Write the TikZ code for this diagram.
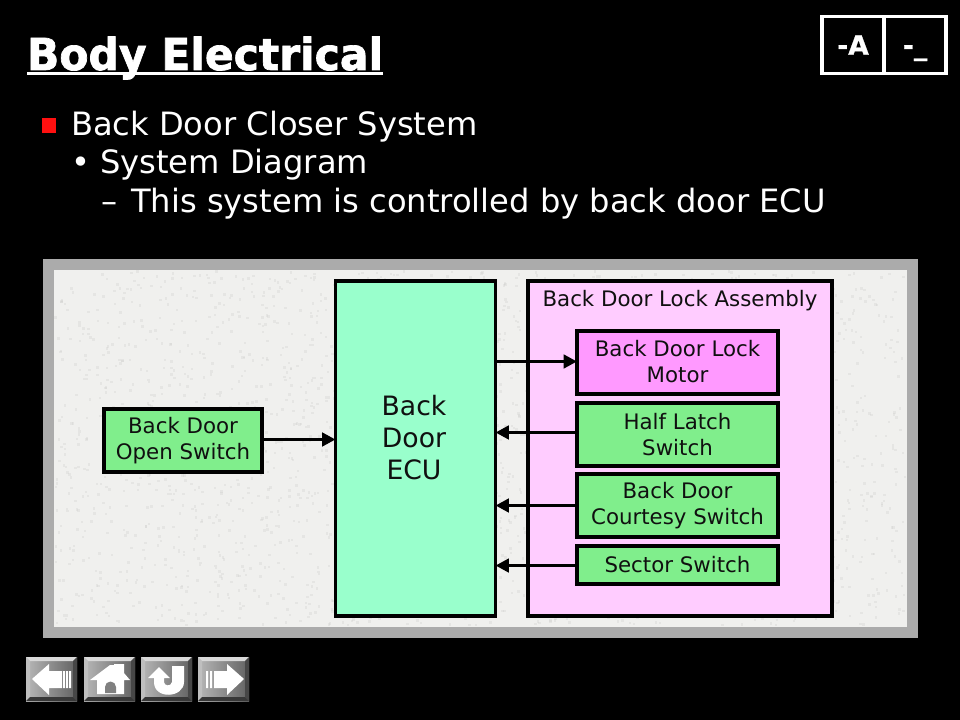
\documentclass[tikz,border=0pt]{standalone}
\usepackage{fontspec}
\setmainfont{DejaVu Sans}
\newfontfamily\titlefont[FakeBold=1.6,FakeStretch=0.965]{DejaVu Sans Bold}
\newfontfamily\tabfont[FakeBold=0.8]{DejaVu Sans Bold}
\usetikzlibrary{arrows.meta}
\definecolor{ecuc}{HTML}{99FFCC}
\definecolor{asmc}{HTML}{FFCCFF}
\definecolor{motc}{HTML}{FF99FF}
\definecolor{grnc}{HTML}{80EE8C}
\definecolor{framec}{HTML}{ABABAB}
\definecolor{texc}{HTML}{F0F0EE}
\definecolor{speck}{HTML}{C8C8C4}
\definecolor{redc}{HTML}{FF1010}
\definecolor{txtc}{HTML}{101010}
\tikzset{
  every node/.style={inner sep=0pt,outer sep=0pt},
  px/.style={x=0.75pt,y=-0.75pt},
  bx/.style args={#1/#2/#3}{draw=black,line width=2.4pt,fill=#1,minimum width=#2*0.75pt,minimum height=#3*0.75pt,align=center,font=\fontsize{16pt}{19.5pt}\selectfont,text=txtc},
  wire/.style={draw=black,line width=2.7pt,-{Triangle[length=10pt,width=10pt]}},
  ico/.style={fill=white,draw=none},
  tabbox/.style={draw=white,line width=2.6pt,minimum width=62*0.75pt,minimum height=57*0.75pt,anchor=north west,text=white,text height=14.6pt,text depth=0pt,font=\tabfont\fontsize{20pt}{24pt}\selectfont},
  bodyline/.style={anchor=base west,text=white,font=\fontsize{24.1pt}{28pt}\selectfont},
}
\newcommand{\btnbox}[1]{%
  \begin{scope}[shift={(#1,657)}]
    \shade[left color=black!28,right color=black!62] (0,0) rectangle (51,44);
    \fill[black!15] (0,0) -- (51,0) -- (47,4) -- (4,4) -- cycle;
    \fill[black!25] (0,0) -- (4,4) -- (4,40) -- (0,44) -- cycle;
    \fill[black!72] (51,0) -- (47,4) -- (47,40) -- (51,44) -- cycle;
    \fill[black!78] (0,44) -- (4,40) -- (47,40) -- (51,44) -- cycle;
  \end{scope}}
\begin{document}
\begin{tikzpicture}[px]
\useasboundingbox (0,0) rectangle (960,720);
\fill[black] (0,0) rectangle (960,720);
% title
\node[anchor=base west,text=white,font=\titlefont\fontsize{33pt}{38pt}\selectfont] (title) at (27,70) {Body Electrical};
\draw[white,line width=1.6pt] (27,73.5) -- (383,73.5);
% tab
\node[tabbox] (tabA) at (822,16.5) {-A};
\node[tabbox] (tabB) at (884,16.5) {-\char"5F};
% text
\fill[redc] (42,118) rectangle (56,133);
\node[bodyline] (l1) at (71,136) {Back Door Closer System};
\node[bodyline] (l2) at (71,174) {• System Diagram};
\node[bodyline] (l3) at (101,213) {–\hspace{3pt} This system is controlled by back door ECU};
% panel
\fill[framec] (43,259) rectangle (918,638);
\fill[texc] (54,270) rectangle (907,627);
\pgfmathsetseed{7}
\foreach \i in {1,...,2600}{
  \pgfmathsetmacro{\dx}{54+rnd*850}
  \pgfmathsetmacro{\dy}{270+rnd*354}
  \fill[speck,opacity=0.25] (\dx,\dy) rectangle ++(2.5,2.5);
}
% boxes
\node[bx=asmc/304/335,anchor=north west] (asm) at (528,281) {};
\node[anchor=base,font=\fontsize{16pt}{19.5pt}\selectfont,text=txtc] (asml) at (680,306) {Back Door Lock Assembly};
\node[bx=ecuc/160/335,anchor=north west] (ecu) at (335.5,281) {};
\node[align=center,font=\fontsize{20pt}{24pt}\selectfont,text=txtc] (ecul) at (414,438) {Back\\Door\\ECU};
\node[bx=motc/201/63,anchor=north west,text depth=1pt] (mot) at (577,331) {Back Door Lock\\Motor};
\node[bx=grnc/201/63,anchor=north west] (half) at (577,403) {Half Latch\\Switch};
\node[bx=grnc/201/63,anchor=north west] (court) at (577,474) {Back Door\\Courtesy Switch};
\node[bx=grnc/201/38,anchor=north west] (sect) at (577,546) {Sector Switch};
\node[bx=grnc/158/63,anchor=north west] (open) at (104,409) {Back Door\\Open Switch};
% connectors
\draw[wire] ([yshift=0.75pt]open.east) -- ([yshift=0.75pt]open.east -| ecu.west);
\draw[wire] ([yshift=0.75pt]mot.west -| ecu.east) -- ([yshift=0.75pt]mot.west);
\draw[wire] ([yshift=1.5pt]half.west) -- ([yshift=1.5pt]half.west -| ecu.east);
\draw[wire] (court.west) -- (court.west -| ecu.east);
\draw[wire] ([yshift=-0.4pt]sect.west) -- ([yshift=-0.4pt]sect.west -| ecu.east);
% nav buttons
\btnbox{26}\btnbox{84}\btnbox{141}\btnbox{198}
\fill[ico] (32,679) -- (49,664) -- (49,671) -- (62,671) -- (62,688) -- (49,688) -- (49,695) -- cycle;
\fill[ico] (63,671) rectangle (65,688) (66,671) rectangle (68,688) (69,671) rectangle (71,688);
\fill[ico] (90,680) -- (110,665) -- (114,665) -- (114,664) -- (124,664) -- (124,673) -- (130,680) -- (124,680) -- (124,694) -- (97,694) -- (97,680) -- cycle;
\fill[black!50] (105,693) -- (105,687) arc[start angle=180,end angle=360,radius=5.5] -- (116,693) -- cycle;
\fill[ico] (148,678) -- (159,667) -- (170,678) -- (164,678) -- (164,682) .. controls (164,686) and (171,687) .. (172,682) -- (172,666) -- (184,666) -- (184,682) .. controls (184,698) and (154,700) .. (154,682) -- (154,678) -- cycle;
\fill[ico] (244,679) -- (227,664) -- (227,671) -- (216,671) -- (216,688) -- (227,688) -- (227,695) -- cycle;
\fill[ico] (214,671) rectangle (216,688) (210,671) rectangle (212,688) (206,671) rectangle (208,688);
\end{tikzpicture}
\end{document}
